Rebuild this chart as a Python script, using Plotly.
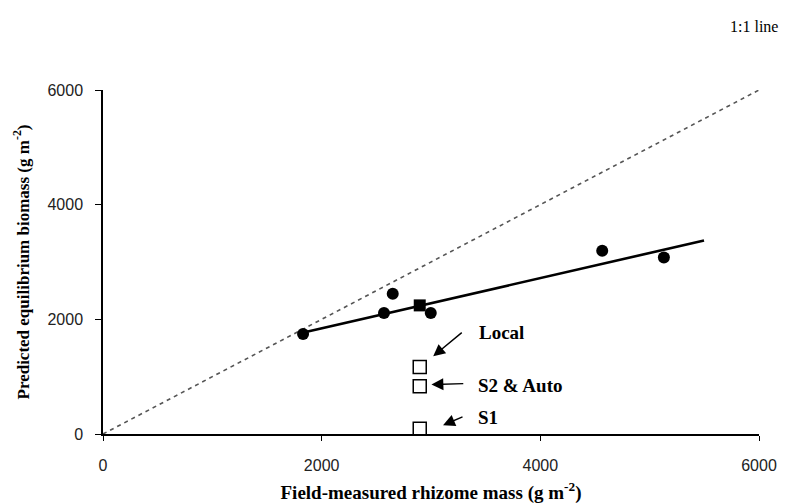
import plotly.graph_objects as go

# Field-measured rhizome mass vs predicted equilibrium biomass (g m-2)
field_x = [1830, 2570, 2650, 2998, 4566, 5130]
pred_y = [1745, 2111, 2447, 2111, 3196, 3079]

mean_x = [2897]
mean_y = [2243]

scen_names = ["Local", "S2 & Auto", "S1"]
scen_x = [2897, 2897, 2897]
scen_y = [1170, 833, 90]

fit_x = [1814, 5497]
fit_y = [1762, 3375]

one_x = [0, 6000]
one_y = [0, 6000]

x_ticks = [0, 2000, 4000, 6000]
y_ticks = [0, 2000, 4000, 6000]

fig = go.Figure()

fig.add_trace(go.Scatter(x=one_x, y=one_y, mode="lines",
                         line=dict(color="#555555", width=1.6, dash="4px,4px"),
                         showlegend=False, hoverinfo="skip"))
fig.add_trace(go.Scatter(x=fit_x, y=fit_y, mode="lines",
                         line=dict(color="black", width=2.6),
                         showlegend=False, hoverinfo="skip"))
fig.add_trace(go.Scatter(x=field_x, y=pred_y, mode="markers",
                         marker=dict(symbol="circle", size=12, color="black"),
                         showlegend=False))
fig.add_trace(go.Scatter(x=mean_x, y=mean_y, mode="markers",
                         marker=dict(symbol="square", size=12, color="black"),
                         showlegend=False))
fig.add_trace(go.Scatter(x=scen_x, y=scen_y, mode="markers",
                         marker=dict(symbol="square-open", size=13, color="black",
                                     line=dict(width=1.5)),
                         showlegend=False, cliponaxis=False))

serif = "Liberation Serif, Times New Roman, serif"
sans = "Liberation Sans, Arial, sans-serif"

# scenario labels with arrows
arrow_defs = [
    # (text, text_x, text_y, tail_x, tail_y, head_x, head_y)
    (scen_names[0], 3418, 1768, 3295, 1790, 3020, 1355),
    (scen_names[1], 3410, 845, 3309, 880, 3004, 862),
    (scen_names[2], 3410, 288, 3302, 310, 3110, 153),
]
for txt, tx, ty, ax_, ay_, hx, hy in arrow_defs:
    fig.add_annotation(x=tx, y=ty, text="<b>" + txt + "</b>", showarrow=False, xanchor="left",
                       yanchor="middle", font=dict(family=serif, size=19, color="black"))
    fig.add_annotation(x=hx, y=hy, ax=ax_, ay=ay_, axref="x", ayref="y",
                       text="", showarrow=True, arrowhead=2, arrowsize=1.7,
                       arrowwidth=1.4, arrowcolor="black")

fig.add_annotation(x=1.0, y=1.186, xref="paper", yref="paper", text="1:1 line",
                   showarrow=False, xanchor="right", yanchor="middle", xshift=21,
                   font=dict(family=serif, size=16, color="black"))

# the page body adds an 8px offset, so the figure is 8px smaller on each side
fig.update_layout(
    width=782, height=496, autosize=False,
    margin=dict(l=95, r=31, t=82, b=70),
    paper_bgcolor="white", plot_bgcolor="white",
    xaxis=dict(range=[0, 6000], tickvals=x_ticks, showgrid=False, zeroline=False,
               automargin=False,
               showline=True, linecolor="black", linewidth=1.5,
               ticks="outside", ticklen=5, tickcolor="black", ticklabelstandoff=11,
               tickfont=dict(family=sans, size=16, color="#222222"),
               title=dict(text="<b>Field-measured rhizome mass (g m<sup>-2</sup>)</b>",
                          font=dict(family=serif, size=19, color="black"), standoff=15)),
    yaxis=dict(range=[0, 6000], tickvals=y_ticks, showgrid=False, zeroline=False,
               automargin=False,
               showline=True, linecolor="black", linewidth=1.5,
               ticks="outside", ticklen=6, tickcolor="black", ticklabelstandoff=9,
               tickfont=dict(family=sans, size=16, color="#222222"),
               title=dict(text="<b>Predicted equilibrium biomass (g m<sup>-2</sup>)</b>",
                          font=dict(family=serif, size=17, color="black"), standoff=14)),
)

fig.write_html("out.html")
